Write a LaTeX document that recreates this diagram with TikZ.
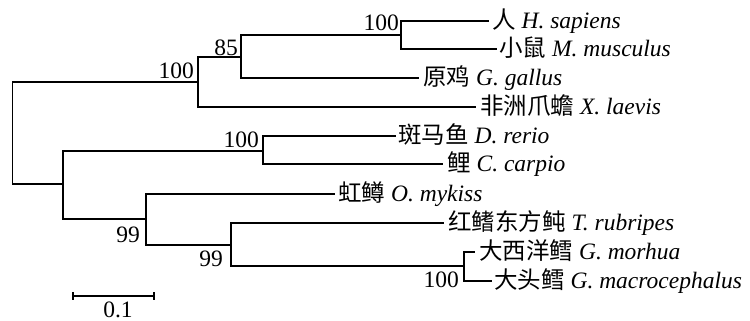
\documentclass[tikz,border=0pt]{standalone}
\usepackage{fontspec}
\setmainfont{Liberation Serif}
\newfontfamily\cjk{Noto Sans CJK SC}
\usetikzlibrary{calc}
\begin{document}
\begin{tikzpicture}[x=1pt,y=-1pt,
  branch/.style={line width=1.3pt, line cap=rect},
  leaf/.style={anchor=base west, inner sep=0pt, font=\fontsize{23.5}{23.5}\selectfont},
  boot/.style={anchor=base east, inner sep=0pt, font=\fontsize{23.5}{23.5}\selectfont},
]
\useasboundingbox (0,0) rectangle (750,321);
% internal nodes
\coordinate (R) at (12.7,133);
\coordinate (A) at (198,82);
\coordinate (B) at (241,57);
\coordinate (C) at (401,35);
\coordinate (F) at (63,184);
\coordinate (Z) at (263,151);
\coordinate (P) at (146,219);
\coordinate (Q) at (231,245);
\coordinate (G) at (464,266);
% leaf ends
\coordinate (hs) at (488,21);
\coordinate (mm) at (496,49);
\coordinate (gg) at (418,78);
\coordinate (xl) at (475,107);
\coordinate (dr) at (395,136);
\coordinate (cc) at (442,164);
\coordinate (om) at (334,194);
\coordinate (tr) at (443,223);
\coordinate (gmo) at (474,252);
\coordinate (gma) at (491,281);
% branches
\draw[branch] (R) |- (A);
\draw[branch] (R) |- (F);
\draw[branch] (A) |- (B);
\draw[branch] (A) |- (xl);
\draw[branch] (B) |- (C);
\draw[branch] (B) |- (gg);
\draw[branch] (C) |- (hs);
\draw[branch] (C) |- (mm);
\draw[branch] (F) |- (Z);
\draw[branch] (F) |- (P);
\draw[branch] (Z) |- (dr);
\draw[branch] (Z) |- (cc);
\draw[branch] (P) |- (om);
\draw[branch] (P) |- (Q);
\draw[branch] (Q) |- (tr);
\draw[branch] (Q) |- (G);
\draw[branch] (G) |- (gmo);
\draw[branch] (G) |- (gma);
% leaf labels
\node[leaf] (lhs) at ($(hs)+(4,7.5)$) {{\cjk 人} \textit{H. sapiens}};
\node[leaf] (lmm) at ($(mm)+(3,7.5)$) {{\cjk 小鼠} \textit{M. musculus}};
\node[leaf] (lgg) at ($(gg)+(5,7.5)$) {{\cjk 原鸡} \textit{G. gallus}};
\node[leaf] (lxl) at ($(xl)+(5,7.5)$) {{\cjk 非洲爪蟾} \textit{X. laevis}};
\node[leaf] (ldr) at ($(dr)+(3,7.5)$) {{\cjk 斑马鱼} \textit{D. rerio}};
\node[leaf] (lcc) at ($(cc)+(5,7.5)$) {{\cjk 鲤} \textit{C. carpio}};
\node[leaf] (lom) at ($(om)+(4,7.5)$) {{\cjk 虹鳟} \textit{O. mykiss}};
\node[leaf] (ltr) at ($(tr)+(5,7.5)$) {{\cjk 红鳍东方鲀} \textit{T. rubripes}};
\node[leaf] (lgmo) at ($(gmo)+(5,7.5)$) {{\cjk 大西洋鳕} \textit{G. morhua}};
\node[leaf] (lgma) at ($(gma)+(3,7.5)$) {{\cjk 大头鳕} \textit{G. macrocephalus}};
% bootstrap values
\node[boot] (bA) at ($(A)+(-4,-3)$) {100};
\node[boot] (bB) at ($(B)+(-3,-1.5)$) {85};
\node[boot] (bC) at ($(C)+(-2,-4)$) {100};
\node[boot] (bZ) at ($(Z)+(-4,-4)$) {100};
\node[boot] (bP) at ($(P)+(-6,23)$) {99};
\node[boot] (bQ) at ($(Q)+(-8,21)$) {99};
\node[boot] (bG) at ($(G)+(-5,21.5)$) {100};
% scale bar
\coordinate (s1) at (73,296);
\coordinate (s2) at (154,296);
\draw[line width=1.3pt] (s1) -- (s2);
\draw[line width=1.3pt] ($(s1)+(0,-4)$) -- ($(s1)+(0,4)$);
\draw[line width=1.3pt] ($(s2)+(0,-4)$) -- ($(s2)+(0,4)$);
\node[anchor=base, inner sep=0pt, font=\fontsize{23.5}{23.5}\selectfont] (sl) at (118,317) {0.1};
\end{tikzpicture}
\end{document}
